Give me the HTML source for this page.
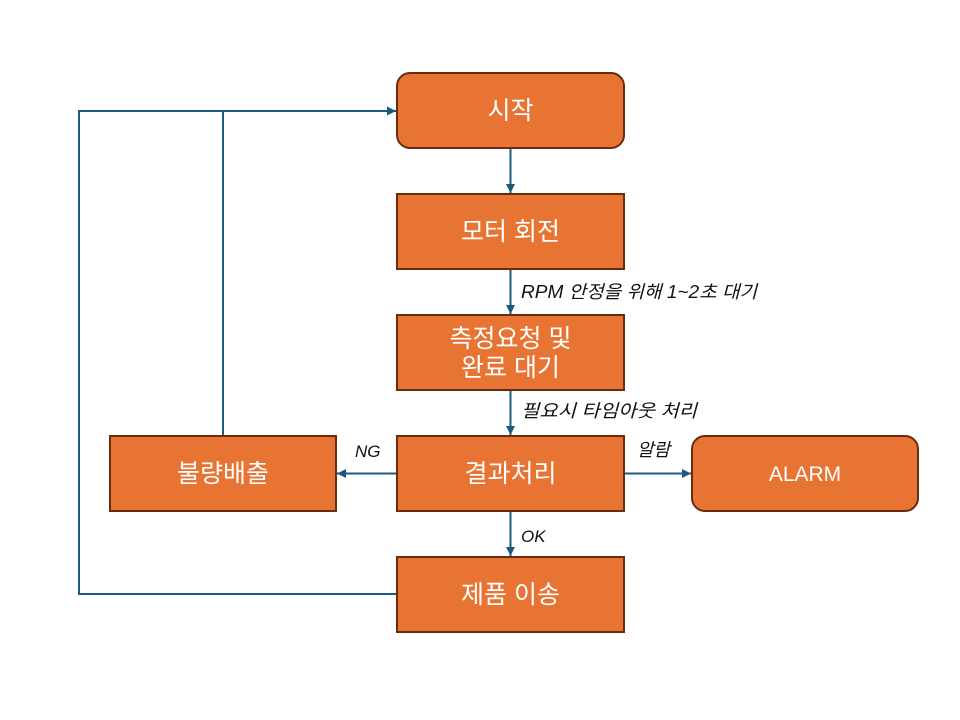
<!DOCTYPE html>
<html><head><meta charset="utf-8">
<style>
html,body{margin:0;padding:0;background:#fff;}
svg{display:block;}
.b{font-family:"Liberation Sans","Noto Sans CJK KR",sans-serif;font-size:25px;fill:#fff;text-anchor:middle;}
.l{font-family:"Liberation Sans","Noto Sans CJK KR",sans-serif;font-size:18px;font-style:italic;fill:#111;}
</style></head>
<body>
<svg width="960" height="720" viewBox="0 0 960 720" xmlns="http://www.w3.org/2000/svg">
<defs>
<marker id="a" viewBox="0 0 10 10" refX="10" refY="5" markerWidth="9" markerHeight="9" markerUnits="userSpaceOnUse" orient="auto">
<path d="M0,0 L10,5 L0,10 z" fill="#1b5a7e"/>
</marker>
</defs>
<g stroke="#1b5a7e" stroke-width="2" fill="none">
<line x1="510.5" y1="148" x2="510.5" y2="193" marker-end="url(#a)"/>
<line x1="510.5" y1="269" x2="510.5" y2="314" marker-end="url(#a)"/>
<line x1="510.5" y1="390" x2="510.5" y2="435" marker-end="url(#a)"/>
<line x1="510.5" y1="511" x2="510.5" y2="556" marker-end="url(#a)"/>
<line x1="397" y1="473.5" x2="337" y2="473.5" marker-end="url(#a)"/>
<line x1="624" y1="473.5" x2="691" y2="473.5" marker-end="url(#a)"/>
<polyline points="397,594 79,594 79,111 396,111" marker-end="url(#a)"/>
<line x1="223" y1="436" x2="223" y2="111"/>
</g>
<g fill="#e87434" stroke="#6a2c0d" stroke-width="2">
<rect x="397" y="73" width="227" height="75" rx="13"/>
<rect x="397" y="194" width="227" height="75"/>
<rect x="397" y="315" width="227" height="75"/>
<rect x="397" y="436" width="227" height="75"/>
<rect x="397" y="557" width="227" height="75"/>
<rect x="110" y="436" width="226" height="75"/>
<rect x="692" y="436" width="226" height="75" rx="13"/>
</g>
<text class="b" x="510.5" y="119">시작</text>
<text class="b" x="510.5" y="240">모터 회전</text>
<text class="b" x="510.5" y="347">측정요청 및</text>
<text class="b" x="510.5" y="376">완료 대기</text>
<text class="b" x="510.5" y="482">결과처리</text>
<text class="b" x="510.5" y="603">제품 이송</text>
<text class="b" x="223" y="482">불량배출</text>
<text class="b" x="805" y="481" style="font-size:21px">ALARM</text>
<text class="l" x="521" y="298" textLength="236" lengthAdjust="spacingAndGlyphs">RPM 안정을 위해 1~2초 대기</text>
<text class="l" x="521" y="417" textLength="176" lengthAdjust="spacingAndGlyphs">필요시 타임아웃 처리</text>
<text class="l" x="355" y="457" style="font-size:17px">NG</text>
<text class="l" x="637" y="456">알람</text>
<text class="l" x="521" y="542" style="font-size:17px">OK</text>
</svg>
</body></html>
